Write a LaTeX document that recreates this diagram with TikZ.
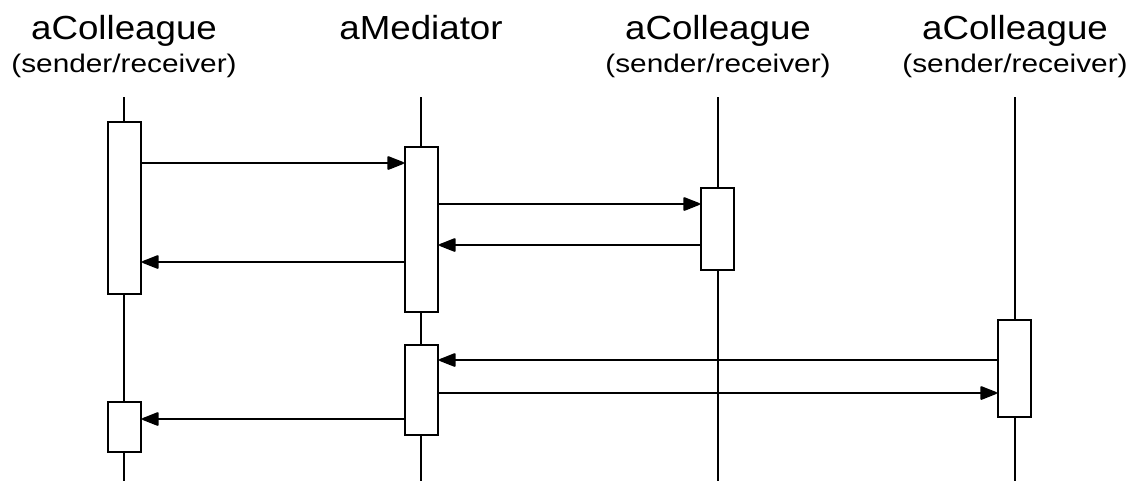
\documentclass[tikz,border=0pt]{standalone}
\usepackage{fontspec}
\setmainfont{Liberation Sans}
\newfontfamily\headfont[FakeStretch=1.1]{Liberation Sans}
\newfontfamily\rolefont[FakeStretch=1.17]{Liberation Sans}
\usetikzlibrary{arrows.meta}

\begin{document}
\begin{tikzpicture}[
    x=0.02cm, y=-0.02cm,
    head/.style={anchor=base, inner sep=0pt, font=\headfont\fontsize{19}{22}\selectfont},
    role/.style={anchor=base, inner sep=0pt, font=\rolefont\fontsize{14.5}{17}\selectfont},
    lifeline/.style={line width=1.1pt},
    act/.style={draw, line width=1.1pt, fill=white, minimum width=0.66cm, inner sep=0pt},
    msg/.style={-{Triangle[length=10.5pt, width=8pt, round]}, line width=1.1pt},
]
\useasboundingbox (0,0) rectangle (1132,481);

% participants
\node[head] (c1) at (124,39) {aColleague};
\node[role] (r1) at (124,72) {(sender/receiver)};
\node[head] (med) at (421,39) {aMediator};
\node[head] (c3) at (718,39) {aColleague};
\node[role] (r3) at (718,72) {(sender/receiver)};
\node[head] (c4) at (1015,39) {aColleague};
\node[role] (r4) at (1015,72) {(sender/receiver)};

% lifelines
\foreach \x in {124,421,718,1015}
  \draw[lifeline] (\x,97) -- (\x,481);

% activations
\node[act, minimum height=3.44cm] (a1) at (124.5,208) {};
\node[act, minimum height=1.0cm] (a2) at (124.5,427) {};
\node[act, minimum height=3.3cm] (m1) at (421.5,229.5) {};
\node[act, minimum height=1.8cm] (m2) at (421.5,390) {};
\node[act, minimum height=1.64cm] (b1) at (717.5,229) {};
\node[act, minimum height=1.94cm] (d1) at (1014.5,368.5) {};

% messages
\draw[msg] (a1.east |- 0,163) -- (m1.west |- 0,163);
\draw[msg] (m1.east |- 0,204) -- (b1.west |- 0,204);
\draw[msg] (b1.west |- 0,245) -- (m1.east |- 0,245);
\draw[msg] (m1.west |- 0,262) -- (a1.east |- 0,262);
\draw[msg] (d1.west |- 0,360) -- (m2.east |- 0,360);
\draw[msg] (m2.east |- 0,393) -- (d1.west |- 0,393);
\draw[msg] (m2.west |- 0,419) -- (a2.east |- 0,419);

\end{tikzpicture}
\end{document}
